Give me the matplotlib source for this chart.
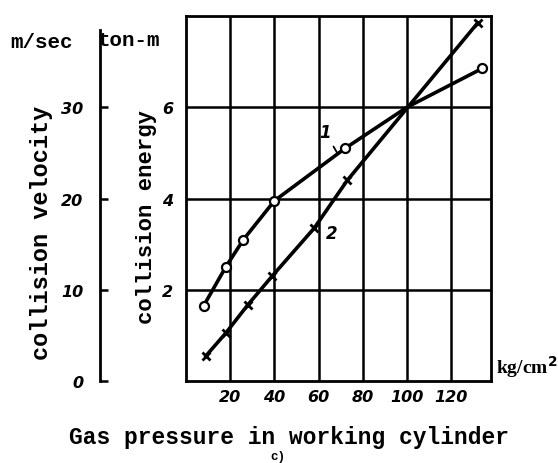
import matplotlib.pyplot as plt

WIDTH, HEIGHT, DPI = 558, 464, 100

# curve 1 (circles) and curve 2 (crosses): collision energy, ton-m
p1 = [8, 18, 26, 40, 72, 100, 134]
e1 = [1.65, 2.5, 3.1, 3.95, 5.1, 6.0, 6.85]
marks1 = [0, 1, 2, 3, 4, 6]
p2 = [9, 18, 28, 39, 58, 73, 132]
e2 = [0.55, 1.05, 1.67, 2.3, 3.35, 4.4, 7.85]

x_ticks = [20, 40, 60, 80, 100, 120]
e_ticks = [2, 4, 6]
v_ticks = [0, 10, 20, 30]

mono = 'Liberation Mono'
num_font = dict(family='DejaVu Sans', weight='bold', style='italic', size=11.5)

fig = plt.figure(figsize=(WIDTH/DPI, HEIGHT/DPI), dpi=DPI, facecolor='white')
left, right, bottom, top = 186/WIDTH, 491/WIDTH, (HEIGHT-382)/HEIGHT, (HEIGHT-17)/HEIGHT
ax = fig.add_axes([left, bottom, right-left, top-bottom])
ax.set_xlim(0, 138)
ax.set_ylim(0, 8)
ax.set_xticks(x_ticks)
ax.set_yticks(e_ticks)
ax.grid(True, color='black', linewidth=1.8)
ax.tick_params(length=0, pad=6)
for s in ax.spines.values():
    s.set_linewidth(2)
ax.set_xticklabels([str(v) for v in x_ticks], fontdict=num_font)
ax.set_yticklabels([str(v) for v in e_ticks], fontdict=num_font)
ax.tick_params(axis='y', pad=9)

ax.plot(p1, e1, color='black', lw=2.6, marker='o', markersize=6.5,
        markerfacecolor='white', markeredgewidth=1.6, markevery=marks1, zorder=3)
ax.plot(p2, e2, color='black', lw=2.6, marker='x', markersize=6,
        markeredgewidth=2, zorder=3)

# curve numbers
ax.annotate('1', xy=(69, 4.95), xytext=(63, 5.45), fontsize=12, style='italic',
            fontweight='bold', ha='center', va='center',
            arrowprops=dict(arrowstyle='-', color='black', lw=1.3))
ax.text(66, 3.25, '2', fontsize=12, style='italic', fontweight='bold',
        ha='center', va='center')

ax.text(1.015, 0.005, r'kg/cm$^\mathbf{2}$', transform=ax.transAxes, fontsize=14,
        fontweight='bold', family='Liberation Serif', ha='left', va='bottom')

# velocity scale: 5 m/sec per ton-m
axv = fig.add_axes([100/WIDTH, bottom, 0.001, top-bottom])
axv.set_ylim(0, 40)
axv.set_xticks([])
axv.set_yticks(v_ticks)
axv.set_yticklabels([str(v) for v in v_ticks], fontdict=num_font)
for k in ['top', 'right', 'bottom']:
    axv.spines[k].set_visible(False)
axv.spines['left'].set_linewidth(2)
axv.spines['left'].set_bounds(0, 38.5)
axv.tick_params(axis='y', direction='in', length=6, width=1.8, pad=12)
axv.patch.set_alpha(0)

fig.text(10/WIDTH, (HEIGHT-43)/HEIGHT, 'm/sec', family=mono, fontweight='bold',
         fontsize=15, ha='left', va='center')
fig.text(97/WIDTH, (HEIGHT-40)/HEIGHT, 'ton-m', family=mono, fontweight='bold',
         fontsize=15, ha='left', va='center')
fig.text(42/WIDTH, (HEIGHT-233)/HEIGHT, 'collision velocity', family=mono,
         fontweight='bold', fontsize=17, rotation=90, ha='center', va='center')
fig.text(146/WIDTH, (HEIGHT-217)/HEIGHT, 'collision energy', family=mono,
         fontweight='bold', fontsize=16, rotation=90, ha='center', va='center')
fig.text(289/WIDTH, (HEIGHT-438)/HEIGHT, 'Gas pressure in working cylinder',
         family=mono, fontweight='bold', fontsize=16.5, ha='center', va='center')
fig.text(278/WIDTH, 1/HEIGHT, 'c)', family=mono, fontweight='bold',
         fontsize=9, ha='center', va='bottom')

fig.savefig('out.png', dpi=DPI)
